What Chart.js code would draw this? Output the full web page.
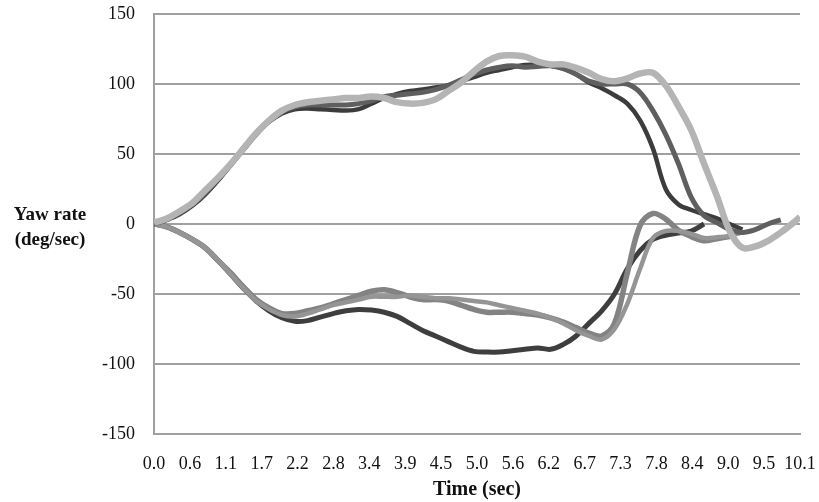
<!DOCTYPE html>
<html>
<head>
<meta charset="utf-8">
<script src="https://cdn.jsdelivr.net/npm/chart.js@4"></script>
<style>
  body { margin: 0; background: #fff; }
  #wrap { position: relative; width: 819px; height: 502px; }
  #ytitle {
    position: absolute; left: 0; top: 201px; width: 100px;
    text-align: center; font: bold 19px "Liberation Serif", serif;
    line-height: 25px; color: #111;
  }
</style>
</head>
<body>
<div id="wrap">
  <canvas id="chart" width="819" height="502"></canvas>
  <div id="ytitle">Yaw rate<br>(deg/sec)</div>
</div>
<script>
// sample times (sec)
const times = [0.0, 0.2, 0.4, 0.6, 0.8, 1.0, 1.2, 1.4, 1.6, 1.8,
  2.0, 2.2, 2.4, 2.6, 2.8, 3.0, 3.2, 3.4, 3.6, 3.8,
  4.0, 4.2, 4.4, 4.6, 4.8, 5.0, 5.2, 5.4, 5.6, 5.8,
  6.0, 6.2, 6.4, 6.6, 6.8, 7.0, 7.2, 7.4, 7.6, 7.8,
  8.0, 8.2, 8.4, 8.6, 8.8, 9.0, 9.2, 9.4, 9.6, 9.8,
  10.0, 10.1];

const xTickLabels = ['0.0', '0.6', '1.1', '1.7', '2.2', '2.8', '3.4', '3.9', '4.5', '5.0',
  '5.6', '6.2', '6.7', '7.3', '7.8', '8.4', '9.0', '9.5', '10.1'];
const yTickValues = [150, 100, 50, 0, -50, -100, -150];

// positive yaw runs
const posCross = [0, 3, 7, 13, 21, 31, 42, 53, 64, 73,
  79, 82, 82.5, 82, 81.5, 81, 82, 86, 90, 93,
  95, 96, 97.5, 99, 102, 105, 108, 110, 112, 113.5,
  114, 113, 111, 107, 101, 97, 92, 86, 74, 54,
  25, 14, 10, 7, 4, 0, -4, null, null, null,
  null, null];
const posTriangle = [0, 3, 8, 14, 22, 32, 43, 54, 65, 74,
  80, 83.5, 85, 85, 85, 85, 86, 88, 91, 92,
  93, 94, 96, 99, 103, 107, 110, 112, 113, 112,
  112.5, 113, 111, 107, 102, 100, 100, 100, 94, 81,
  64, 43, 19, 6, 1, -4, -6, -4, 0, 3,
  null, null];
const posCircle = [1, 4, 9, 15, 24, 33, 43, 54, 65, 74,
  81, 85, 87, 88, 89, 90, 90, 91, 90, 87,
  86, 86.5, 89, 95, 101, 109, 116, 120, 120.5, 119.5,
  116, 114, 114, 111.5, 108, 103.5, 102, 104, 107.5, 108,
  99, 84, 67, 43, 20, -5, -17, -16, -12, -6,
  1, 5];

// negative yaw runs
const negDiamond = [0, -2, -6, -11, -17, -26, -36, -46, -55, -62,
  -67, -69.5, -69, -66.5, -64, -62, -61, -61.5, -63, -66,
  -71, -76, -80, -84, -88, -91, -91.5, -91.5, -90.5, -89.5,
  -88.5, -89.5, -86, -80, -71, -62, -50, -32, -19, -11,
  -8, -6.5, -5, 0, null, null, null, null, null, null,
  null, null];
const negSquare = [0, -2, -6, -11, -17, -26, -35, -45, -54, -60,
  -64, -64, -62, -60, -57, -54, -51, -48, -47, -49,
  -52, -54, -54, -55, -58, -61, -63, -63, -63, -64,
  -65, -67, -70, -74, -78, -80, -71, -35, -1, 7.5,
  3.5, -4.5, -9, -12, -10.5, -9, null, null, null, null,
  null, null];
const negPlus = [0, -2, -6, -11, -17, -26, -36, -46, -55, -61,
  -65, -66, -64, -61, -58, -56, -54, -52, -52, -52,
  -51, -52, -53, -53, -54, -55, -56, -58, -60, -62,
  -64, -67, -71, -76, -80, -82.5, -75, -57, -32, -10,
  -5, -5, -7, -10, -9.5, -8.5, -6, null, null, null,
  null, null];

const xMax = 10.1;

function pts(values) {
    return times.map((t, i) => ({ x: t, y: values[i] }));
}

function line(values, color, width) {
    return {
        data: pts(values),
        borderColor: color,
        backgroundColor: color,
        borderWidth: width,
        pointRadius: 0,
        tension: 0.35,
        fill: false
    };
}

const serif = '"Liberation Serif", serif';

new Chart(document.getElementById('chart'), {
    type: 'line',
    data: {
        datasets: [
            line(posCircle, '#b4b4b4', 6.5),
            line(posTriangle, '#5f5f5f', 5),
            line(posCross, '#3c3c3c', 4.5),
            line(negPlus, '#959595', 4.5),
            line(negSquare, '#838383', 5.5),
            line(negDiamond, '#3e3e3e', 5)
        ]
    },
    options: {
        responsive: false,
        devicePixelRatio: 1,
        animation: false,
        layout: { padding: { top: 14, right: 19, left: 0, bottom: 0 } },
        plugins: { legend: { display: false }, tooltip: { enabled: false } },
        scales: {
            x: {
                type: 'linear',
                min: 0,
                max: xMax,
                grid: { display: false },
                border: { display: true, color: '#a0a0a0', width: 2 },
                afterBuildTicks: axis => {
                    axis.ticks = xTickLabels.map((l, i) => ({ value: i * xMax / (xTickLabels.length - 1) }));
                },
                afterFit: scale => {
                    scale.height = 68;
                    scale.paddingLeft = 0;
                    scale.paddingRight = 0;
                },
                ticks: {
                    autoSkip: false,
                    maxRotation: 0,
                    padding: 11,
                    color: '#111',
                    font: { family: serif, size: 18 },
                    callback: (v, i) => xTickLabels[i]
                },
                title: {
                    display: true,
                    text: 'Time (sec)',
                    color: '#111',
                    font: { family: serif, size: 20, weight: 'bold' },
                    padding: { top: 0, bottom: 0 }
                }
            },
            y: {
                min: -150,
                max: 150,
                afterBuildTicks: axis => {
                    axis.ticks = yTickValues.map(v => ({ value: v }));
                },
                afterFit: scale => {
                    scale.width = 154;
                    scale.paddingTop = 0;
                    scale.paddingBottom = 0;
                },
                grid: { color: '#a0a0a0', lineWidth: 2, drawTicks: false },
                border: { display: true, color: '#a0a0a0', width: 2 },
                ticks: {
                    padding: 19,
                    color: '#111',
                    font: { family: serif, size: 18 }
                }
            }
        }
    }
});
</script>
</body>
</html>
